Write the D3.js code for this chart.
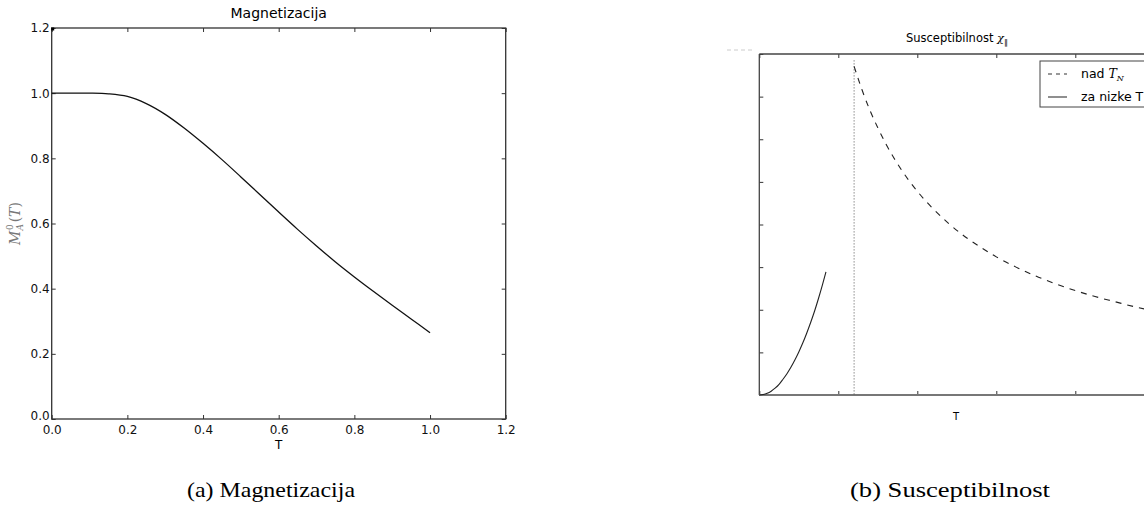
<!DOCTYPE html>
<html>
<head>
<meta charset="utf-8">
<script src="https://cdn.jsdelivr.net/npm/d3@7"></script>
<style>
  body { margin: 0; background: #fff; }
  svg { display: block; }
</style>
</head>
<body>
<div id="fig"></div>
<script>
// panel (a): magnetizacija
const magT = [0, 0.05, 0.1, 0.15, 0.2, 0.25, 0.3, 0.35, 0.4, 0.45, 0.5, 0.55, 0.6, 0.65, 0.7, 0.75, 0.8, 0.85, 0.9, 0.95, 1.0];
const magM = [1.0, 1.0, 1.0, 0.998, 0.99, 0.968, 0.935, 0.893, 0.846, 0.796, 0.743, 0.689, 0.635, 0.582, 0.531, 0.482, 0.436, 0.392, 0.349, 0.307, 0.265];
const magTicks = [0, 0.2, 0.4, 0.6, 0.8, 1.0, 1.2];
const magCorner = [[0, 1.2]];

// panel (b): susceptibilnost (no tick labels in the original)
const nadT = [1.2, 1.3, 1.4, 1.5, 1.6, 1.8, 2.0, 2.2, 2.4, 2.6, 2.8, 3.0, 3.25, 3.5, 3.75, 4.0, 4.25, 4.5, 4.75, 5.0];
const nadChi = [7.71, 7.16, 6.68, 6.27, 5.90, 5.28, 4.78, 4.37, 4.02, 3.72, 3.47, 3.24, 3.00, 2.79, 2.61, 2.45, 2.31, 2.19, 2.07, 1.97];
const nizkeT = [0, 0.05, 0.1, 0.15, 0.2, 0.25, 0.3, 0.35, 0.4, 0.45, 0.5, 0.55, 0.6, 0.65, 0.7, 0.75, 0.8, 0.844];
const nizkeChi = [0, 0.01, 0.04, 0.09, 0.16, 0.25, 0.37, 0.50, 0.65, 0.82, 1.01, 1.22, 1.45, 1.70, 1.97, 2.27, 2.59, 2.89];
const TN = 1.2;
const susXTicks = [0, 1, 2, 3, 4, 5];
const susYTicks = [0, 1, 2, 3, 4, 5, 6, 7, 8];
const legendItems = ["nad", "za nizke T"];

const svg = d3.select("#fig").append("svg")
    .attr("width", 1144)
    .attr("height", 508);

svg.append("rect").attr("width", 1144).attr("height", 508).attr("fill", "#fff");

const sans = "'DejaVu Sans', sans-serif";
const serif = "'DejaVu Serif', 'Liberation Serif', serif";

// ---------- panel (a) ----------
const xa = d3.scaleLinear().domain([0, 1.2]).range([51.7, 505.7]);
const ya = d3.scaleLinear().domain([0, 1.2]).range([419, 28]);

const ga = svg.append("g");

function styleAxis(g, size) {
    g.select(".domain").remove();
    g.selectAll(".tick line").attr("stroke", "#333").attr("stroke-width", 1);
    g.selectAll(".tick text").attr("fill", "#111").style("font-family", sans).style("font-size", size + "px");
}

ga.append("g")
    .attr("transform", `translate(0,${ya(0)})`)
    .call(d3.axisBottom(xa).tickValues(magTicks).tickFormat(d3.format(".1f")).tickSizeInner(-4).tickSizeOuter(0).tickPadding(6))
    .call(g => styleAxis(g, 12));

ga.append("g")
    .attr("transform", `translate(${xa(0)},0)`)
    .call(d3.axisLeft(ya).tickValues(magTicks).tickFormat(d3.format(".1f")).tickSizeInner(-4).tickSizeOuter(0).tickPadding(2))
    .call(g => styleAxis(g, 12))
    .call(g => g.selectAll(".tick text").filter(d => d === 0).attr("dy", "0.05em"));

ga.append("g")
    .attr("transform", `translate(0,${ya(1.2)})`)
    .call(d3.axisTop(xa).tickValues(magTicks).tickFormat("").tickSizeInner(-4).tickSizeOuter(0))
    .call(g => styleAxis(g, 12));

ga.append("g")
    .attr("transform", `translate(${xa(1.2)},0)`)
    .call(d3.axisRight(ya).tickValues(magTicks).tickFormat("").tickSizeInner(-4).tickSizeOuter(0))
    .call(g => styleAxis(g, 12));

ga.append("rect")
    .attr("x", xa(0)).attr("y", ya(1.2))
    .attr("width", xa(1.2) - xa(0)).attr("height", ya(0) - ya(1.2))
    .attr("fill", "none").attr("stroke", "#333").attr("stroke-width", 1.3);

ga.append("path")
    .datum(magT.map((t, i) => [t, magM[i]]))
    .attr("fill", "none")
    .attr("stroke", "#111")
    .attr("stroke-width", 1.3)
    .attr("d", d3.line().x(d => xa(d[0])).y(d => ya(d[1])).curve(d3.curveCatmullRom));

ga.selectAll(".corner")
    .data(magCorner)
    .join("rect")
    .attr("x", d => xa(d[0]) - 0.5).attr("y", d => ya(d[1]) - 0.5)
    .attr("width", 3).attr("height", 3)
    .attr("fill", "#000");

ga.append("text")
    .attr("x", (xa(0) + xa(1.2)) / 2).attr("y", 18)
    .attr("text-anchor", "middle")
    .style("font-family", sans).style("font-size", "14px")
    .text("Magnetizacija");

ga.append("text")
    .attr("x", (xa(0) + xa(1.2)) / 2).attr("y", 449)
    .attr("text-anchor", "middle")
    .style("font-family", sans).style("font-size", "12px")
    .text("T");

const ylab = ga.append("text")
    .attr("transform", `translate(20,${(ya(0) + ya(1.2)) / 2}) rotate(-90)`)
    .attr("text-anchor", "middle")
    .attr("fill", "#777")
    .style("font-family", serif).style("font-size", "14px").style("font-style", "italic");
ylab.append("tspan").text("M");
ylab.append("tspan").attr("dy", 3).style("font-size", "9px").text("A");
ylab.append("tspan").attr("dx", -6).attr("dy", -10).style("font-size", "9px").style("font-style", "normal").text("0");
ylab.append("tspan").attr("dx", 2).attr("dy", 7).style("font-style", "normal").text("(");
ylab.append("tspan").text("T");
ylab.append("tspan").style("font-style", "normal").text(")");

// ---------- panel (b) ----------
const xb = d3.scaleLinear().domain([0, 5]).range([759.3, 1154.3]);
const yb = d3.scaleLinear().domain([0, 8]).range([395, 54]);

const gb = svg.append("g");

gb.append("g")
    .attr("transform", `translate(0,${yb(0)})`)
    .call(d3.axisBottom(xb).tickValues(susXTicks).tickFormat("").tickSizeInner(-4).tickSizeOuter(0))
    .call(g => styleAxis(g, 11));

gb.append("g")
    .attr("transform", `translate(0,${yb(8)})`)
    .call(d3.axisTop(xb).tickValues(susXTicks).tickFormat("").tickSizeInner(-4).tickSizeOuter(0))
    .call(g => styleAxis(g, 11));

gb.append("g")
    .attr("transform", `translate(${xb(0)},0)`)
    .call(d3.axisLeft(yb).tickValues(susYTicks).tickFormat("").tickSizeInner(-4).tickSizeOuter(0))
    .call(g => styleAxis(g, 11));

// spines
gb.append("line")
    .attr("x1", xb(0)).attr("x2", xb(5)).attr("y1", yb(8)).attr("y2", yb(8))
    .attr("stroke", "#444").attr("stroke-width", 1.3);
gb.append("line")
    .attr("x1", xb(0)).attr("x2", xb(0)).attr("y1", yb(8)).attr("y2", yb(0))
    .attr("stroke", "#444").attr("stroke-width", 1.3);
gb.append("line")
    .attr("x1", xb(0)).attr("x2", xb(5)).attr("y1", yb(0)).attr("y2", yb(0))
    .attr("stroke", "#777").attr("stroke-width", 2);

// faint dashes left of the frame
gb.append("line")
    .attr("x1", 727).attr("x2", 754).attr("y1", 50).attr("y2", 50)
    .attr("stroke", "#ccc").attr("stroke-width", 1).attr("stroke-dasharray", "4,3");

gb.append("line")
    .attr("x1", xb(TN)).attr("x2", xb(TN))
    .attr("y1", yb(7.85)).attr("y2", yb(0))
    .attr("stroke", "#555").attr("stroke-width", 1).attr("stroke-dasharray", "1,2");

const lineB = d3.line().x(d => xb(d[0])).y(d => yb(d[1])).curve(d3.curveMonotoneX);

gb.append("path")
    .datum(nadT.map((t, i) => [t, nadChi[i]]))
    .attr("fill", "none").attr("stroke", "#222").attr("stroke-width", 1.1)
    .attr("stroke-dasharray", "6,6")
    .attr("d", lineB);

gb.append("path")
    .datum(nizkeT.map((t, i) => [t, nizkeChi[i]]))
    .attr("fill", "none").attr("stroke", "#222").attr("stroke-width", 1.1)
    .attr("d", lineB);

const title = gb.append("text")
    .attr("x", 957).attr("y", 42)
    .attr("text-anchor", "middle")
    .style("font-family", sans).style("font-size", "11.5px");
title.append("tspan").text("Susceptibilnost ");
title.append("tspan").style("font-family", serif).style("font-style", "italic").text("χ");
title.append("tspan").attr("dy", 3).style("font-size", "8px").text("∥");

gb.append("text")
    .attr("x", 956).attr("y", 420)
    .attr("text-anchor", "middle")
    .style("font-family", sans).style("font-size", "10px")
    .text("T");

// legend
const lg = gb.append("g").attr("transform", "translate(1040,61)");
lg.append("rect")
    .attr("width", 130).attr("height", 46)
    .attr("fill", "#fff").attr("stroke", "#444").attr("stroke-width", 1);

legendItems.forEach((name, i) => {
    const row = lg.append("g").attr("transform", `translate(0,${13 + i * 23})`);
    row.append("line")
        .attr("x1", 8).attr("x2", 27).attr("y1", 0).attr("y2", 0)
        .attr("stroke", "#333").attr("stroke-width", 1.1)
        .attr("stroke-dasharray", i === 0 ? "4,4" : null);
    const t = row.append("text")
        .attr("x", 41).attr("y", 4)
        .style("font-family", sans).style("font-size", "12.5px");
    if (i === 0) {
        t.append("tspan").text("nad ");
        t.append("tspan").style("font-family", serif).style("font-style", "italic").text("T");
        t.append("tspan").attr("dy", 3).style("font-family", serif).style("font-style", "italic").style("font-size", "8px").text("N");
    } else {
        t.text(name);
    }
});

// captions
svg.append("text")
    .attr("x", 271).attr("y", 497)
    .attr("text-anchor", "middle")
    .attr("textLength", 168).attr("lengthAdjust", "spacingAndGlyphs")
    .style("font-family", "'Liberation Serif', serif").style("font-size", "22px")
    .text("(a) Magnetizacija");

svg.append("text")
    .attr("x", 950).attr("y", 497)
    .attr("text-anchor", "middle")
    .attr("textLength", 200).attr("lengthAdjust", "spacingAndGlyphs")
    .style("font-family", "'Liberation Serif', serif").style("font-size", "22px")
    .text("(b) Susceptibilnost");
</script>
</body>
</html>
